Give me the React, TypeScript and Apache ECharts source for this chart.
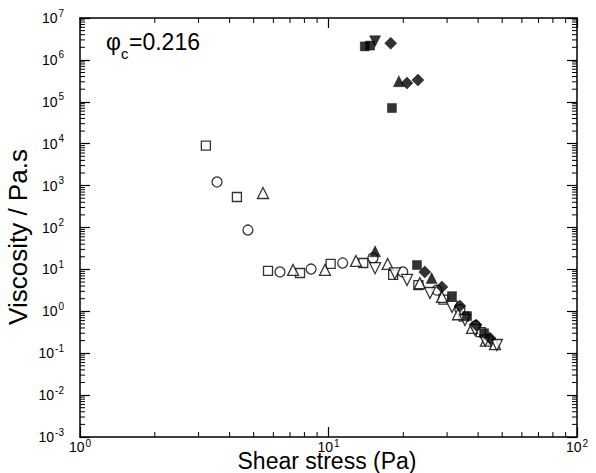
import React, { useEffect, useRef } from 'react';
import * as echarts from 'echarts';

// ---- data (shear stress Pa, viscosity Pa.s) ----
const openSquares: number[][] = [
  [3.21, 9000], [4.28, 535], [5.71, 9.2], [7.68, 8.2], [10.2, 13.5], [13.8, 14.2],
  [18.2, 7.4], [23.0, 4.2], [29.0, 1.9], [35.0, 0.75], [41.0, 0.32],
];
const openCircles: number[][] = [
  [3.56, 1220], [4.74, 87], [6.38, 8.7], [8.51, 10.2], [11.4, 14.2], [15.1, 18.7],
  [19.9, 8.7], [27.3, 3.2], [33.8, 1.1], [39.0, 0.45], [44.0, 0.21],
];
const openTriangles: number[][] = [
  [5.45, 665], [7.2, 9.7], [9.68, 9.7], [12.9, 15.9], [17.3, 13.5], [23.3, 4.7],
  [28.6, 2.2], [33.2, 0.85], [37.8, 0.4], [43.0, 0.2], [46.8, 0.165],
];
const openInverted: number[][] = [
  [15.4, 10.7], [18.5, 8.0], [20.7, 5.6], [25.6, 2.73], [31.4, 1.27], [35.4, 0.62],
  [38.9, 0.36], [42.7, 0.2], [47.6, 0.157],
];
const filledSquares: number[][] = [
  [14.0, 2.1e6], [14.7, 2.2e6], [18.0, 7.1e4], [22.7, 12.7], [31.4, 2.3], [36.1, 0.77], [42.3, 0.3],
];
const filledDiamonds: number[][] = [
  [17.8, 2.5e6], [20.7, 2.8e5], [22.9, 3.3e5], [24.4, 8.7], [28.6, 3.8], [33.8, 1.34],
  [39.3, 0.47], [44.6, 0.23],
];
const filledTriangles: number[][] = [
  [19.2, 3.1e5], [15.4, 27], [26.0, 6.2],
];
const filledInverted: number[][] = [
  [15.4, 2.8e6],
];

// ---- axis settings ----
const X_MIN = 1;
const X_MAX = 100;
const Y_MIN = 1e-3;
const Y_MAX = 1e7;
const X_DECADES = [1, 10];
const Y_DECADES = [1e-3, 1e-2, 1e-1, 1, 10, 100, 1e3, 1e4, 1e5, 1e6];
const MINOR_MULT = [2, 3, 4, 5, 6, 7, 8, 9];

const FONT = "'Liberation Sans', Arial, Helvetica, sans-serif";

const labelFmt = (v: number) => `{b|10}{s|${Math.round(Math.log10(v))}}`;
const richY = {
  b: { fontSize: 14, fontFamily: FONT, color: '#000' },
  s: { fontSize: 10, fontFamily: FONT, color: '#000', padding: [0, 0, 10, 1] },
};
const richX = {
  b: { fontSize: 14, fontFamily: FONT, color: '#000' },
  s: { fontSize: 10, fontFamily: FONT, color: '#000', padding: [0, 0, 8, 1] },
};

const axisCommon = {
  type: 'log',
  logBase: 10,
  axisLine: { show: true, onZero: false, lineStyle: { color: '#000', width: 1.5 } },
  axisTick: { show: true, inside: true, length: 10, lineStyle: { color: '#000', width: 1.2 } },
  splitLine: { show: false },
  minorTick: { show: false },
};

const tickLine = (x1: number, y1: number, x2: number, y2: number) => ({
  type: 'line',
  shape: { x1, y1, x2, y2 },
  style: { stroke: '#000', lineWidth: 1 },
});

export default function App() {
  const ref = useRef<HTMLDivElement>(null);
  useEffect(() => {
    document.body.style.margin = '0';
    if (!ref.current) return;
    const chart = echarts.init(ref.current, null, { renderer: 'svg' });

    const minorX = X_DECADES.flatMap((d) => MINOR_MULT.map((m) => [m * d, Y_MIN]));
    const minorY = Y_DECADES.flatMap((d) => MINOR_MULT.map((m) => [X_MIN, m * d]));

    const openStyle = { color: '#fff', borderColor: '#000', borderWidth: 1.3 };
    const fillStyle = { color: '#000', borderColor: '#000', borderWidth: 0.5 };

    chart.setOption({
      animation: false,
      backgroundColor: '#fff',
      grid: { left: 80, right: 19, top: 18, bottom: 36 },
      xAxis: [
        { ...axisCommon, min: X_MIN, max: X_MAX, position: 'bottom',
          axisLabel: { formatter: labelFmt, rich: richX, margin: 1 } },
        { ...axisCommon, min: X_MIN, max: X_MAX, position: 'top', axisLabel: { show: false } },
      ],
      yAxis: [
        { ...axisCommon, min: Y_MIN, max: Y_MAX, interval: 1, position: 'left',
          axisLabel: { formatter: labelFmt, rich: richY, margin: 16 } },
        { ...axisCommon, min: Y_MIN, max: Y_MAX, interval: 1, position: 'right', axisLabel: { show: false } },
      ],
      graphic: [
        { type: 'text', left: 106, top: 30, style: { text: 'φ', font: `23px ${FONT}`, fill: '#000' } },
        { type: 'text', left: 121, top: 46, style: { text: 'c', font: `15px ${FONT}`, fill: '#000' } },
        { type: 'text', left: 129, top: 30, style: { text: '=0.216', font: `23px ${FONT}`, fill: '#000' } },
        { type: 'text', x: 327, y: 472, style: { text: 'Shear stress (Pa)', font: `23px ${FONT}`, fill: '#000', align: 'center', verticalAlign: 'bottom' } },
        { type: 'text', x: 18, y: 237, rotation: Math.PI / 2, style: { text: 'Viscosity / Pa.s', font: `26px ${FONT}`, fill: '#000', align: 'center', verticalAlign: 'middle' } },
      ],
      series: [
        {
          type: 'custom', coordinateSystem: 'cartesian2d', data: minorX, silent: true, clip: false,
          renderItem: (_p: any, api: any) => {
            const v = api.value(0);
            const b = api.coord([v, Y_MIN]);
            const t = api.coord([v, Y_MAX]);
            return { type: 'group', children: [tickLine(b[0], b[1], b[0], b[1] - 5), tickLine(t[0], t[1], t[0], t[1] + 5)] };
          },
        },
        {
          type: 'custom', coordinateSystem: 'cartesian2d', data: minorY, silent: true, clip: false,
          renderItem: (_p: any, api: any) => {
            const v = api.value(1);
            const l = api.coord([X_MIN, v]);
            const r = api.coord([X_MAX, v]);
            return { type: 'group', children: [tickLine(l[0], l[1], l[0] + 5, l[1]), tickLine(r[0], r[1], r[0] - 5, r[1])] };
          },
        },
        { type: 'scatter', data: openSquares, symbol: 'rect', symbolSize: 9, itemStyle: openStyle },
        { type: 'scatter', data: openCircles, symbol: 'circle', symbolSize: 10, itemStyle: openStyle },
        { type: 'scatter', data: openTriangles, symbol: 'triangle', symbolSize: 11, itemStyle: openStyle },
        { type: 'scatter', data: openInverted, symbol: 'triangle', symbolRotate: 180, symbolSize: 11, itemStyle: openStyle },
        { type: 'scatter', data: filledSquares, symbol: 'rect', symbolSize: 9, itemStyle: fillStyle },
        { type: 'scatter', data: filledDiamonds, symbol: 'rect', symbolRotate: 45, symbolSize: 8.5, itemStyle: fillStyle },
        { type: 'scatter', data: filledTriangles, symbol: 'triangle', symbolSize: 11, itemStyle: fillStyle },
        { type: 'scatter', data: filledInverted, symbol: 'triangle', symbolRotate: 180, symbolSize: 11, itemStyle: fillStyle },
      ],
    });
    return () => chart.dispose();
  }, []);
  return <div ref={ref} style={{ width: 596, height: 473 }} />;
}
